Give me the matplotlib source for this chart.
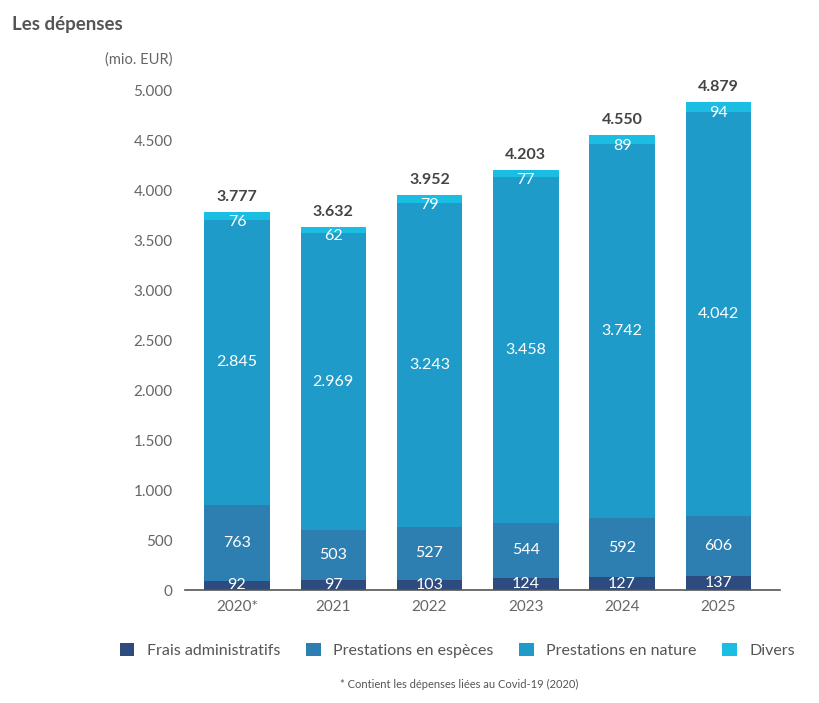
import numpy as np
import matplotlib.pyplot as plt
from matplotlib.patches import Patch

plt.rcParams['font.family'] = ['Lato', 'DejaVu Sans']

# data (mio. EUR)
years = ["2020*", "2021", "2022", "2023", "2024", "2025"]
frais_admin = [92, 97, 103, 124, 127, 137]
especes = [763, 503, 527, 544, 592, 606]
nature = [2845, 2969, 3243, 3458, 3742, 4042]
divers = [76, 62, 79, 77, 89, 94]
totals = ["3.777", "3.632", "3.952", "4.203", "4.550", "4.879"]

series = [frais_admin, especes, nature, divers]
names = ["Frais administratifs", "Prestations en espèces", "Prestations en nature", "Divers"]
colors = ["#2d4b7e", "#2e7fb1", "#1f9bc9", "#1cbde2"]

def fmt(v):
    return f"{v:,}".replace(",", ".")

fig = plt.figure(figsize=(8.2, 7.03), dpi=100)
ax = fig.add_axes([0.2256, 0.1607, 0.7256, 0.7112])

x = np.arange(len(years))
w = 0.68
bottom = np.zeros(len(years))
for vals, col in zip(series, colors):
    vals = np.array(vals)
    ax.bar(x, vals, w, bottom=bottom, color=col, zorder=2)
    for xi, b, v in zip(x, bottom, vals):
        yc = b + v / 2
        if v < 100 and b > 1000:
            yc = b + v / 2 - 60
        ax.text(xi, yc, fmt(int(v)), ha="center", va="center",
                color="white", fontsize=11.5, zorder=3)
    bottom += vals

for xi, top, t in zip(x, bottom, totals):
    ax.text(xi, top + 80, t, ha="center", va="bottom", color="#444444",
            fontsize=11.5, fontweight="bold", clip_on=False)

ax.set_xlim(-0.54, 5.64)
ax.set_ylim(0, 5000)
ax.set_xticks(x)
ax.set_xticklabels(years)
ax.set_yticks(np.arange(0, 5001, 500))
ax.set_yticklabels([fmt(v) for v in range(0, 5001, 500)])
ax.tick_params(axis="both", length=0, labelsize=11, colors="#666666")
ax.tick_params(axis="y", pad=9)
ax.tick_params(axis="x", pad=7)
for s in ["top", "right", "left"]:
    ax.spines[s].set_visible(False)
ax.spines["bottom"].set_color("#555555")
ax.spines["bottom"].set_linewidth(1.2)

fig.text(0.015, 0.958, "Les dépenses", fontsize=13.5, fontweight="bold", color="#555555")
fig.text(0.128, 0.910, "(mio. EUR)", fontsize=10.5, color="#666666")

handles = [Patch(facecolor=c, edgecolor="none") for c in colors]
fig.legend(handles, names, loc="center", bbox_to_anchor=(0.558, 0.075), ncol=4,
           frameon=False, fontsize=11.5, handlelength=0.9, handleheight=0.9,
           handletextpad=0.8, columnspacing=1.6, labelcolor="#555555")

fig.text(0.56, 0.022, "* Contient les dépenses liées au Covid-19 (2020)",
         ha="center", fontsize=8, color="#555555")

fig.savefig("out.png", dpi=100)
